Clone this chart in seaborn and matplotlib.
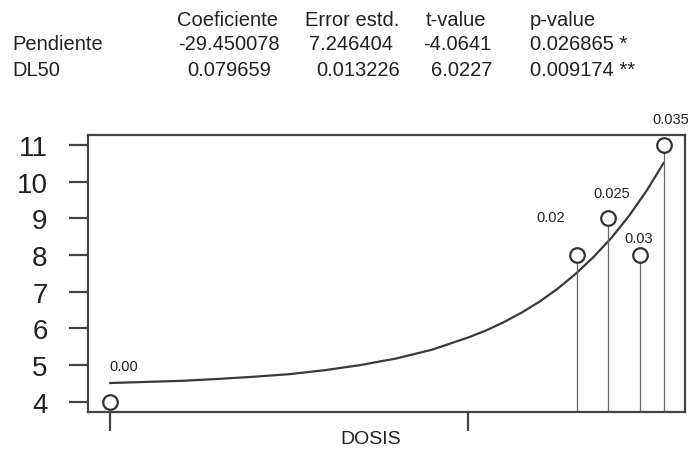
import matplotlib
matplotlib.use("Agg")
import matplotlib.pyplot as plt
import seaborn as sns
import pandas as pd

# ---- data ----
dose_labels = ["0.00", "0.02", "0.025", "0.03", "0.035"]
dose_pos = [0.0, 1.304, 1.391, 1.480, 1.547]        # position on the DOSIS axis
response = [4, 8, 9, 8, 11]

curve_x = [0.0, 0.1, 0.2, 0.3, 0.4, 0.5, 0.6, 0.7, 0.8, 0.9, 1.0, 1.05, 1.1,
           1.15, 1.2, 1.25, 1.3, 1.35, 1.4, 1.45, 1.5, 1.547]
curve_y = [4.51, 4.54, 4.57, 4.62, 4.68, 4.75, 4.86, 5.00, 5.18, 5.42, 5.75, 5.94,
           6.17, 6.43, 6.73, 7.08, 7.48, 7.94, 8.46, 9.07, 9.77, 10.52]

x_ticks = [0, 1]
y_ticks = [4, 5, 6, 7, 8, 9, 10, 11]

table_header = ["Coeficiente", "Error estd.", "t-value", "p-value"]
row_names = ["Pendiente", "DL50"]
coef = ["-29.450078", "0.079659"]
std_err = ["7.246404", "0.013226"]
t_values = ["-4.0641", "6.0227"]
p_values = ["0.026865 *", "0.009174 **"]

# ---- figure ----
sns.set_theme(style="white")
plt.rcParams['font.family'] = ['Liberation Sans', 'DejaVu Sans']

W, H = 688, 452
fig = plt.figure(figsize=(W / 100, H / 100), dpi=100)
ax = fig.add_axes([88 / W, 1 - 413 / H, (685 - 88) / W, (413 - 136) / H])

pts = pd.DataFrame({"x": dose_pos, "y": response, "label": dose_labels})
cur = pd.DataFrame({"x": curve_x, "y": curve_y})

sns.lineplot(data=cur, x="x", y="y", ax=ax, color="#3a3a3a", linewidth=1.6, sort=True)

ylo, yhi = 3.72, 11.27
ax.set_ylim(ylo, yhi)
ax.set_xlim(-0.0615, 1.606)

# drop lines from points to the bottom
for xi, yi in zip(dose_pos[1:], response[1:]):
    ax.vlines(xi, ylo, yi, color="#666666", linewidth=0.9, zorder=2)

sns.scatterplot(data=pts, x="x", y="y", ax=ax, s=110, facecolor="white",
                edgecolor="#333333", linewidth=1.6, zorder=4, legend=False)

label_offsets = {"0.00": (10, 26), "0.02": (-19, 27), "0.025": (3, 18),
                 "0.03": (-1, 12), "0.035": (5, 19)}
for xi, yi, lab in zip(dose_pos, response, dose_labels):
    dx, dy = label_offsets[lab]
    ax.annotate(lab, (xi, yi), xytext=(dx, dy), textcoords="offset points",
                ha="center", va="center", fontsize=10.5, color="#222222")

ax.set_xticks(x_ticks)
ax.set_xticklabels([])
ax.set_yticks(y_ticks)
ax.set_yticklabels([str(v) for v in y_ticks], fontsize=20, color="#222222")
ax.tick_params(axis="both", direction="out", length=14, width=1.6, color="#444444",
               bottom=True, left=True, pad=15)
ax.set_xlabel("DOSIS", fontsize=14, color="#222222")
ax.xaxis.set_label_coords((371 - 88) / 597, (413 - 440) / 277)
ax.xaxis.label.set_va("center")
ax.set_ylabel("")
for s in ax.spines.values():
    s.set_visible(True)
    s.set_color("#444444")
    s.set_linewidth(1.6)

# ---- table text ----
fs = 14.5
col = "#222222"
rows_y = [20, 45, 70]
fig.text(228 / W, 1 - rows_y[0] / H, table_header[0], ha="center", va="center", fontsize=fs, color=col)
fig.text(352 / W, 1 - rows_y[0] / H, table_header[1], ha="center", va="center", fontsize=fs, color=col)
fig.text(456 / W, 1 - rows_y[0] / H, table_header[2], ha="center", va="center", fontsize=fs, color=col)
fig.text(530 / W, 1 - rows_y[0] / H, table_header[3], ha="left", va="center", fontsize=fs, color=col)
coef_cx = [229, 229]
err_cx = [351, 358]
t_cx = [457, 462]
for i in range(2):
    y = 1 - rows_y[i + 1] / H
    fig.text(12 / W, y, row_names[i], ha="left", va="center", fontsize=fs, color=col)
    fig.text(coef_cx[i] / W, y, coef[i], ha="center", va="center", fontsize=fs, color=col)
    fig.text(err_cx[i] / W, y, std_err[i], ha="center", va="center", fontsize=fs, color=col)
    fig.text(t_cx[i] / W, y, t_values[i], ha="center", va="center", fontsize=fs, color=col)
    fig.text(530 / W, y, p_values[i], ha="left", va="center", fontsize=fs, color=col)

fig.savefig("out.png", dpi=100)
